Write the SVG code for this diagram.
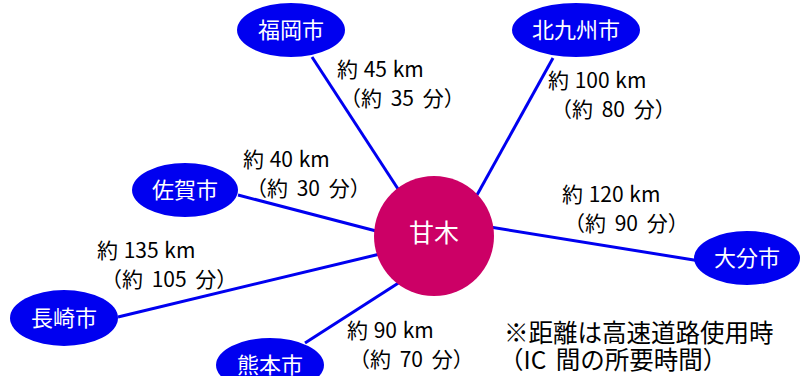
<svg xmlns="http://www.w3.org/2000/svg" width="807" height="376" viewBox="0 0 807 376">
<style>
.con{stroke:#0000F0;stroke-width:3;fill:none}
.city{fill:#0000F0}
.ct{fill:#fff;font-family:"Noto Sans CJK JP","Noto Sans",sans-serif;font-size:22px;text-anchor:middle}
.lb{fill:#000;font-family:"Noto Sans CJK JP","Noto Sans",sans-serif;font-size:21px;word-spacing:1px}
.lb2{fill:#000;font-family:"Noto Sans CJK JP","Noto Sans",sans-serif;font-size:21px;word-spacing:4px}
.note{fill:#000;font-family:"Noto Sans CJK JP","Noto Sans",sans-serif;font-size:24.5px}
</style>
<rect width="807" height="376" fill="#fff"/>
<g id="connectors">
<line class="con" x1="312" y1="57" x2="400" y2="192"/>
<line class="con" x1="553" y1="58" x2="477" y2="195"/>
<line class="con" x1="238" y1="195" x2="380" y2="232"/>
<line class="con" x1="490" y1="227" x2="700" y2="261"/>
<line class="con" x1="118" y1="317" x2="380" y2="254"/>
<line class="con" x1="305" y1="343" x2="400" y2="282"/>
</g>
<g id="amagi">
<circle cx="434" cy="236" r="60" fill="#CC0066"/>
<text x="434" y="242" class="ct" style="font-size:25px">甘木</text>
</g>
<g id="fukuoka">
<ellipse class="city" cx="291" cy="30" rx="54" ry="27"/>
<text class="ct" x="291" y="38">福岡市</text>
</g>
<g id="kitakyushu">
<ellipse class="city" cx="576" cy="30" rx="64" ry="27"/>
<text class="ct" x="576" y="38">北九州市</text>
</g>
<g id="saga">
<ellipse class="city" cx="185" cy="190" rx="53" ry="27"/>
<text class="ct" x="185" y="198">佐賀市</text>
</g>
<g id="oita">
<ellipse class="city" cx="747" cy="258" rx="53" ry="27"/>
<text class="ct" x="747" y="266">大分市</text>
</g>
<g id="nagasaki">
<ellipse class="city" cx="64" cy="318" rx="54" ry="28"/>
<text class="ct" x="64" y="326">長崎市</text>
</g>
<g id="kumamoto">
<ellipse class="city" cx="270" cy="365" rx="54" ry="27"/>
<text class="ct" x="270" y="373">熊本市</text>
</g>
<g id="labels">
<text class="lb" x="337" y="77">約 45 km</text>
<text class="lb2" x="340" y="106">（約 35 分）</text>
<text class="lb" x="548" y="88">約 100 km</text>
<text class="lb2" x="551" y="117">（約 80 分）</text>
<text class="lb" x="243" y="167">約 40 km</text>
<text class="lb2" x="246" y="196">（約 30 分）</text>
<text class="lb" x="562" y="202">約 120 km</text>
<text class="lb2" x="564" y="231">（約 90 分）</text>
<text class="lb" x="97" y="258">約 135 km</text>
<text class="lb2" x="101" y="287">（約 105 分）</text>
<text class="lb" x="347" y="338">約 90 km</text>
<text class="lb2" x="349" y="367">（約 70 分）</text>
</g>
<g id="note">
<text class="note" x="504" y="342">※距離は高速道路使用時</text>
<text class="note" x="499" y="369" style="word-spacing:4px">（IC 間の所要時間）</text>
</g>
</svg>
